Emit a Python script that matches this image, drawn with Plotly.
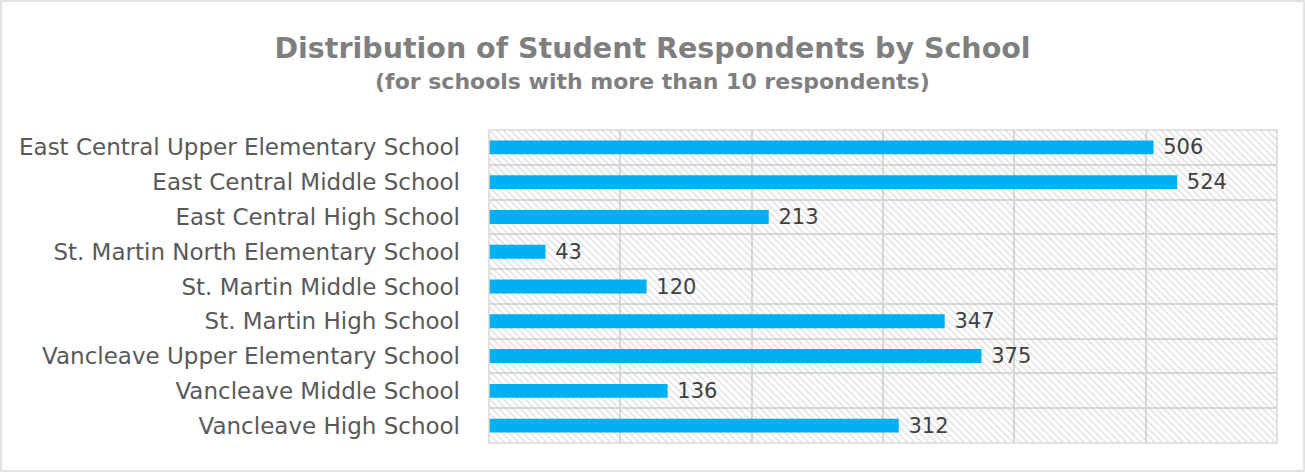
import plotly.graph_objects as go

schools = [
    "East Central Upper Elementary School",
    "East Central Middle School",
    "East Central High School",
    "St. Martin North Elementary School",
    "St. Martin Middle School",
    "St. Martin High School",
    "Vancleave Upper Elementary School",
    "Vancleave Middle School",
    "Vancleave High School",
]
respondents = [506, 524, 213, 43, 120, 347, 375, 136, 312]
x_max = 600
x_ticks = [0, 100, 200, 300, 400, 500, 600]
title_text = "Distribution of Student Respondents by School"
subtitle_text = "(for schools with more than 10 respondents)"

W, H = 1305, 472
ML, MR, MT, MB = 489, 28, 130, 29
PW, PH = W - ML - MR, H - MT - MB
FONT = "DejaVu Sans"

pos = list(range(len(schools)))

fig = go.Figure()
# hatched plot-area background (transparent so gridlines show through)
fig.add_trace(go.Bar(
    y=pos, x=[x_max] * len(schools), orientation="h", width=1.0,
    marker=dict(color="rgba(0,0,0,0)", line=dict(width=0),
                pattern=dict(shape="\\", fgcolor="#c4c4c4", bgcolor="rgba(0,0,0,0)",
                             size=5, solidity=0.3)),
    hoverinfo="skip", showlegend=False,
))
fig.add_trace(go.Bar(
    y=pos, x=respondents, orientation="h", width=0.4,
    marker=dict(color="#00b0f0", line=dict(width=0)),
    texttemplate=" %{x}", textposition="outside", constraintext="none",
    textfont=dict(family=FONT, size=21, color="#404040"),
    cliponaxis=False, showlegend=False,
))

fig.update_layout(
    width=W, height=H,
    margin=dict(l=ML, r=MR, t=MT, b=MB, autoexpand=False),
    paper_bgcolor="white", plot_bgcolor="white",
    barmode="overlay",
    title=dict(
        text="<b>" + title_text + "</b>",
        x=0.5, xanchor="center", y=1 - 48 / H, yanchor="middle",
        font=dict(family=FONT, size=28.5, color="#7f7f7f"),
    ),
    annotations=[dict(
        text="<b>" + subtitle_text + "</b>", xref="paper", yref="paper",
        x=(W / 2 - ML) / PW, y=1 + (MT - 81) / PH, xanchor="center", yanchor="middle",
        showarrow=False, font=dict(family=FONT, size=22, color="#7f7f7f"),
    )],
    xaxis=dict(range=[0, x_max], tickvals=x_ticks, showticklabels=False,
               showgrid=True, gridcolor="#d9d9d9", gridwidth=1.5, zeroline=False,
               showline=False, automargin=False),
    yaxis=dict(range=[len(schools) - 0.5, -0.5], tickvals=pos, ticktext=schools,
               tickfont=dict(family=FONT, size=23, color="#595959"),
               ticklabelstandoff=28, automargin=False,
               showgrid=False, zeroline=False, ticks="", ticklen=0,
               minor=dict(tickvals=[p + 0.5 for p in pos[:-1]], showgrid=True,
                          gridcolor="#d9d9d9", gridwidth=1.5, ticks="")),
    shapes=[
        dict(type="rect", xref="paper", yref="paper", x0=0, x1=1, y0=0, y1=1,
             line=dict(color="#d9d9d9", width=1.5), fillcolor="rgba(0,0,0,0)"),
        dict(type="rect", xref="paper", yref="paper",
             x0=-(ML - 1) / PW, x1=1 + (MR - 1) / PW,
             y0=-(MB - 1) / PH, y1=1 + (MT - 1) / PH,
             line=dict(color="#d9d9d9", width=1.5), fillcolor="rgba(0,0,0,0)"),
    ],
)

fig.write_html("out.html", config={"displayModeBar": False},
               post_script="document.body.style.margin='0';")
